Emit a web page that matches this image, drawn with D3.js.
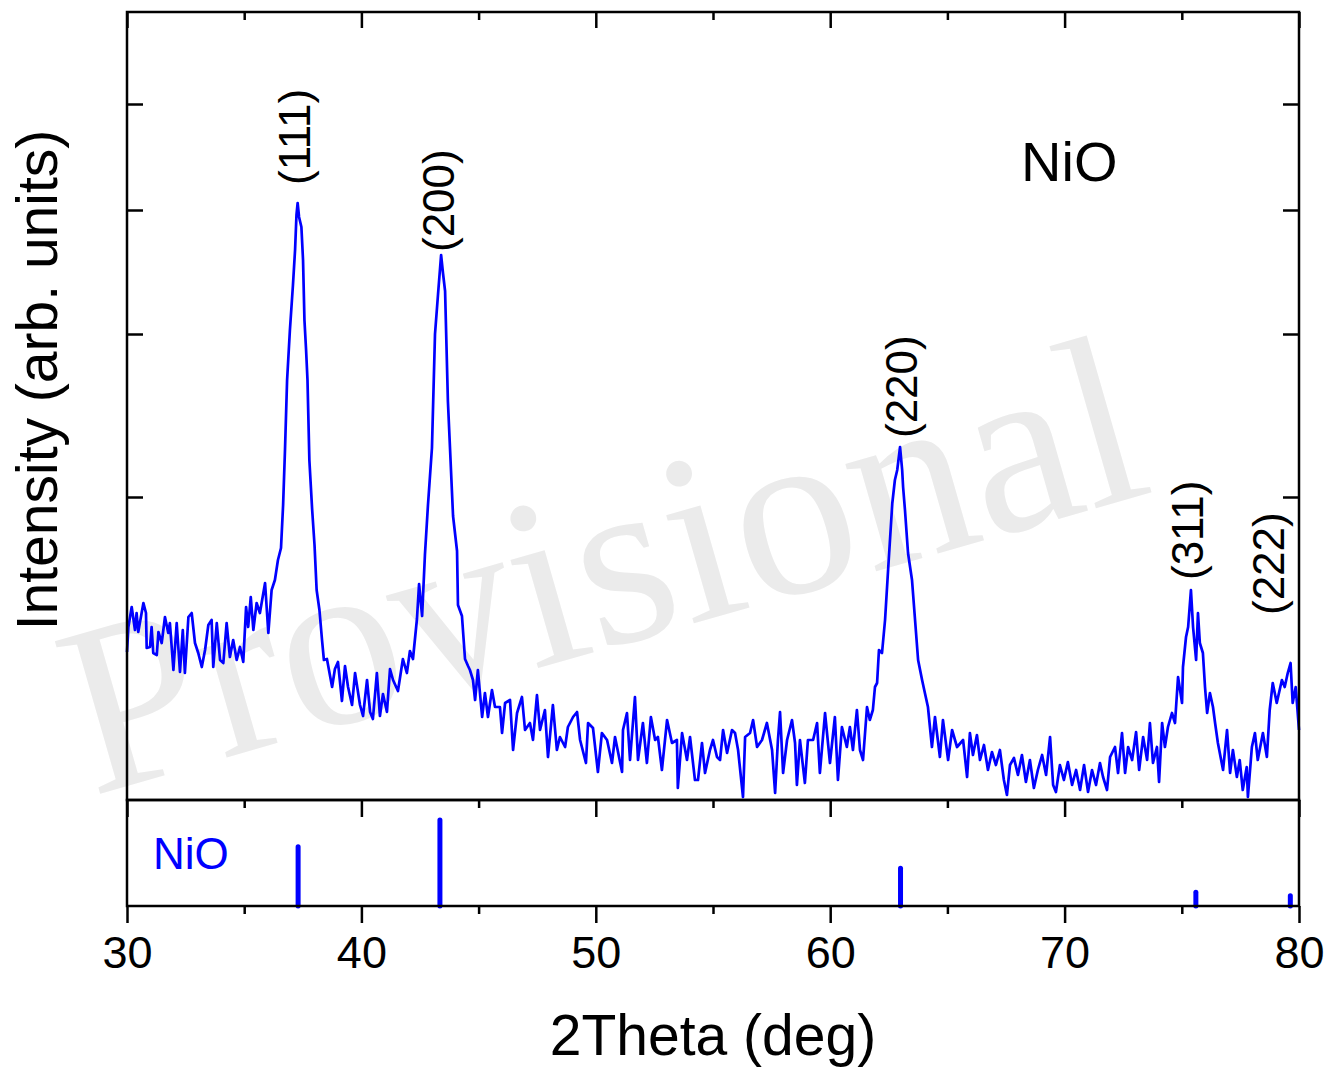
<!DOCTYPE html>
<html><head><meta charset="utf-8">
<script src="https://cdn.jsdelivr.net/npm/d3@7/dist/d3.min.js"></script>
<style>body{margin:0;background:#fff}</style></head>
<body>
<svg id="chart" width="1337" height="1071"></svg>
<script>
// ---- data ----
const theta = [30.00,30.06,30.20,30.34,30.41,30.48,30.70,30.81,30.84,30.98,31.05,31.12,31.27,31.34,31.48,31.62,31.76,31.83,31.98,32.12,32.26,32.38,32.47,32.62,32.76,32.90,33.04,33.19,33.33,33.47,33.61,33.68,33.83,33.97,34.11,34.25,34.39,34.53,34.68,34.82,34.96,35.08,35.17,35.28,35.39,35.53,35.67,35.89,36.03,36.17,36.31,
36.44,36.57,36.66,36.74,36.83,36.95,37.08,37.17,37.23,37.28,37.34,37.44,37.51,37.57,37.64,37.70,37.78,37.90,38.00,38.09,38.21,38.32,38.40,38.53,38.75,38.87,39.00,39.17,39.30,39.43,39.60,39.73,39.94,40.07,40.24,40.37,40.49,40.66,40.79,40.92,41.09,41.22,41.35,41.56,41.77,41.94,42.07,42.20,42.37,42.46,42.59,42.71,42.84,43.01,43.14,43.27,43.40,43.48,43.57,43.69,43.91,44.08,44.12,44.29,44.42,44.55,
44.63,44.76,44.85,44.97,45.15,45.27,45.40,45.57,45.70,45.91,46.00,46.13,46.34,46.47,46.64,46.85,46.98,47.19,47.32,47.49,47.62,47.83,47.96,48.17,48.34,48.47,48.69,48.81,49.03,49.20,49.33,49.58,49.67,49.88,50.09,50.26,50.48,50.69,50.82,51.12,51.16,51.33,51.46,51.67,51.80,52.01,52.18,52.35,52.53,52.65,52.82,53.04,53.25,53.46,53.50,53.68,53.89,54.02,54.23,54.36,54.53,54.66,54.87,55.00,55.17,55.30,55.43,55.60,55.81,55.94,56.07,56.28,56.37,56.58,56.71,56.88,57.09,57.30,57.52,57.65,57.77,57.86,57.99,58.16,58.37,58.50,58.58,58.71,58.92,59.05,59.27,59.44,59.56,59.78,59.99,60.20,60.33,60.50,60.71,60.84,60.97,61.14,61.27,61.40,61.57,61.69,61.82,61.91,62.00,
62.08,62.21,62.34,62.47,62.65,62.76,62.86,62.98,63.07,63.11,63.19,63.32,63.49,63.62,63.75,63.92,64.04,64.17,64.34,64.47,64.68,64.81,65.03,65.20,65.41,65.67,65.84,65.96,
66.09,66.26,66.39,66.56,66.73,66.90,67.07,67.24,67.41,67.54,67.67,67.84,68.01,68.18,68.35,68.52,68.69,68.86,69.04,69.21,69.38,69.51,69.63,69.80,69.97,70.14,70.32,70.49,70.66,70.83,71.00,71.17,71.34,
71.51,71.64,71.81,71.94,72.15,72.28,72.45,72.58,72.71,72.88,73.05,73.18,73.35,73.52,73.64,73.77,73.94,74.03,74.16,74.28,74.41,74.58,74.71,74.84,75.01,75.05,75.18,75.27,75.39,75.48,75.61,75.69,75.77,75.90,75.99,76.08,76.20,76.33,76.42,76.54,76.76,76.93,77.06,77.18,77.35,77.47,77.60,77.77,77.82,77.99,78.12,78.24,78.46,78.63,78.75,78.88,79.05,79.27,79.39,79.52,79.64,79.73,79.86,80.00];
const intensity = [148,173,193,170,187,168,197,187,152,153,173,147,145,168,157,183,167,177,130,177,128,170,127,183,187,157,147,133,150,175,180,133,177,140,137,177,143,160,140,153,138,193,173,203,170,197,187,217,167,210,220,
240,252,295,350,420,470,515,550,585,597,583,573,540,480,450,420,340,290,255,210,190,160,140,141,113,131,138,99,134,113,95,127,95,84,120,88,81,127,84,106,88,131,120,109,141,127,149,141,181,216,184,245,295,352,466,506,545,527,509,399,284,249,195,184,141,134,
130,120,100,130,83,107,83,110,93,93,67,97,100,50,87,103,70,77,60,105,70,90,43,95,50,63,53,73,83,88,60,37,77,72,28,67,60,37,63,28,70,87,40,103,40,77,37,83,60,63,30,80,57,60,12,67,40,63,20,20,57,27,50,60,43,40,70,47,70,67,50,3,63,67,80,53,60,77,50,7,60,88,27,60,80,57,15,60,17,60,60,77,27,87,37,83,20,73,53,73,50,90,50,40,93,80,90,113,117,
150,147,180,230,297,320,330,353,330,313,290,247,220,180,140,120,107,93,53,83,43,80,40,70,53,60,23,67,
45,65,40,55,30,48,35,50,20,5,35,42,25,45,18,40,12,30,45,25,63,15,8,35,20,38,15,30,10,35,8,30,15,
37,23,10,43,53,27,67,27,53,40,68,30,63,40,77,37,53,18,77,53,73,87,77,123,97,133,163,173,210,173,140,187,157,147,113,87,107,93,77,57,30,70,27,50,23,40,10,33,3,53,67,40,67,43,90,117,97,120,113,127,137,97,113,70];

const xTicks = [30,40,50,60,70,80];
const xMinorTicks = [35,45,55,65,75];
const yTicks = [303,466,590,696];

const stickTheta = [37.3,43.35,63.0,75.6,79.63];
const stickRel = [69,100,44,16,12];

const peakLabels = ["(111)","(200)","(220)","(311)","(222)"];
const labelTheta = [37.12,43.27,63.02,75.22,78.68];
const labelI = [615,548,362,220,185];

// ---- layout ----
const svg = d3.select("#chart");
const L = 127, R = 1299, T = 12, MB = 800, RB = 906;
const x = d3.scaleLinear().domain([30,80]).range([L,R]);
const y = d3.scaleLinear().domain([0,788]).range([MB,T]);
const yRef = d3.scaleLinear().domain([0,100]).range([RB,820]);
const FONT = "'Liberation Sans', Arial, sans-serif";

// watermark
svg.append("text")
  .attr("transform","translate(92,796) rotate(-16)")
  .attr("font-family","'Liberation Serif', 'Times New Roman', serif")
  .attr("font-size",243)
  .attr("fill","#ebebeb")
  .text("Provisional");

// data line
svg.append("path")
  .datum(theta.map((t,i)=>[t,intensity[i]]))
  .attr("fill","none").attr("stroke","#0000ff").attr("stroke-width",2.7)
  .attr("stroke-linejoin","round")
  .attr("d", d3.line().x(d=>x(d[0])).y(d=>y(d[1])));

// reference sticks
svg.selectAll("line.stick").data(stickTheta).join("line")
  .attr("class","stick")
  .attr("x1",d=>x(d)).attr("x2",d=>x(d))
  .attr("y1",yRef(0)).attr("y2",(d,i)=>yRef(stickRel[i]))
  .attr("stroke","#0000ff").attr("stroke-width",5).attr("stroke-linecap","round");

// axes helper
function styleAxis(g){
  g.select(".domain").remove();
  g.selectAll("line").attr("stroke","#000").attr("stroke-width",2.5);
  g.selectAll("text").attr("font-family",FONT).attr("fill","#000");
}
// top (inward ticks)
svg.append("g").attr("transform",`translate(0,${T})`)
  .call(d3.axisBottom(x).tickValues(xTicks).tickSize(16).tickFormat(""))
  .call(styleAxis);
svg.append("g").attr("transform",`translate(0,${T})`)
  .call(d3.axisBottom(x).tickValues(xMinorTicks).tickSize(8).tickFormat(""))
  .call(styleAxis);
// main bottom (ticks down into the reference panel)
svg.append("g").attr("transform",`translate(0,${MB})`)
  .call(d3.axisBottom(x).tickValues(xTicks).tickSize(17).tickFormat(""))
  .call(styleAxis);
svg.append("g").attr("transform",`translate(0,${MB})`)
  .call(d3.axisBottom(x).tickValues(xMinorTicks).tickSize(8).tickFormat(""))
  .call(styleAxis);
// reference bottom with labels
svg.append("g").attr("transform",`translate(0,${RB})`)
  .call(d3.axisBottom(x).tickValues(xTicks).tickSize(17).tickPadding(13).tickFormat(d3.format("d")))
  .call(styleAxis)
  .call(g=>g.selectAll("text").attr("font-size",45));
svg.append("g").attr("transform",`translate(0,${RB})`)
  .call(d3.axisBottom(x).tickValues(xMinorTicks).tickSize(8).tickFormat(""))
  .call(styleAxis);
// left and right y ticks (inward)
svg.append("g").attr("transform",`translate(${L},0)`)
  .call(d3.axisRight(y).tickValues(yTicks).tickSize(16).tickFormat(""))
  .call(styleAxis);
svg.append("g").attr("transform",`translate(${R},0)`)
  .call(d3.axisLeft(y).tickValues(yTicks).tickSize(16).tickFormat(""))
  .call(styleAxis);

// frames
const frame = svg.append("g").attr("stroke","#000").attr("stroke-width",2.5).attr("fill","none");
frame.append("rect").attr("x",L).attr("y",T).attr("width",R-L).attr("height",MB-T);
frame.append("rect").attr("x",L).attr("y",MB).attr("width",R-L).attr("height",RB-MB);

// peak labels
svg.selectAll("text.peak").data(peakLabels).join("text")
  .attr("class","peak")
  .attr("transform",(d,i)=>`translate(${x(labelTheta[i])},${y(labelI[i])}) rotate(-90)`)
  .attr("dy","0.36em")
  .attr("font-family",FONT).attr("font-size",44).attr("fill","#000")
  .text(d=>d);

// phase labels
svg.append("text").attr("x",1021).attr("y",181)
  .attr("font-family",FONT).attr("font-size",56).attr("fill","#000").text("NiO");
svg.append("text").attr("x",153).attr("y",869)
  .attr("font-family",FONT).attr("font-size",44).attr("fill","#0000ff").text("NiO");

// axis titles
svg.append("text").attr("x",(L+R)/2).attr("y",1055).attr("text-anchor","middle")
  .attr("font-family",FONT).attr("font-size",57).attr("fill","#000").text("2Theta (deg)");
svg.append("text").attr("transform","translate(57,380) rotate(-90)").attr("text-anchor","middle")
  .attr("font-family",FONT).attr("font-size",57).attr("fill","#000").text("Intensity (arb. units)");
</script>
</body></html>
